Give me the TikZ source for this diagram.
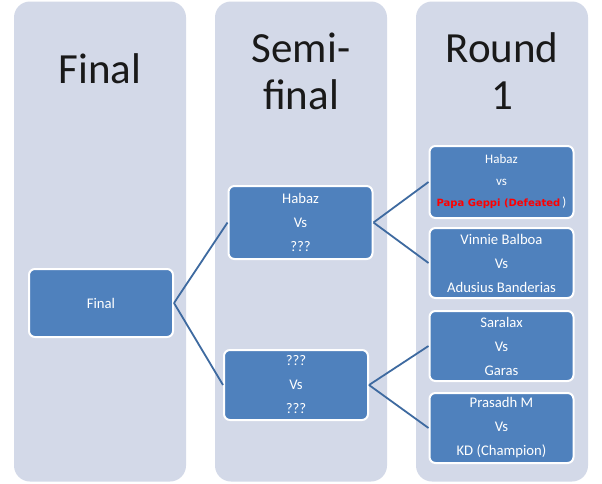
\documentclass[tikz,border=0pt]{standalone}
\usepackage{fontspec}
\setmainfont{Carlito}
\newfontfamily\notefont{DejaVu Sans}
\usepackage{xcolor}
\definecolor{lanebg}{HTML}{D3D9E8}
\definecolor{matchblue}{HTML}{4F81BD}
\definecolor{linkblue}{HTML}{3E6AA0}
\tikzset{
  lane/.style={fill=lanebg, rounded corners=16pt, minimum width=172pt, minimum height=480pt, inner sep=0pt},
  heading/.style={align=center, font=\fontsize{43}{47}\selectfont, text=black!90},
  match/.style={draw=white, line width=2pt, fill=matchblue, rounded corners=6pt, minimum width=144pt, minimum height=71pt, inner sep=0pt, align=center, text=white, font=\fontsize{14.7}{24}\selectfont},
  link/.style={linkblue, line width=1.8pt}
}

\begin{document}
\begin{tikzpicture}[x=1pt,y=-1pt]
  \useasboundingbox[fill=white] (0,0) rectangle (602,483);

  \node[lane] (colfinal) at (100,241.5) {};
  \node[lane] (colsemi) at (301,241.5) {};
  \node[lane] (colround) at (502,241.5) {};

  \node[heading] (hfinal) at (100,69) {Final};
  \node[heading] (hsemi) at (301,71) {Semi-\\final};
  \node[heading] (hround) at (502,71) {Round\\1};

  \node[match, minimum height=68pt] (final) at (101,303) {Final};
  \node[match, minimum height=73pt] (semitop) at (300.5,222.5) {Habaz\\Vs\\???};
  \node[match, minimum height=70pt] (semibot) at (296,385) {???\\Vs\\???};
  \node[match, minimum height=72pt, font=\fontsize{13}{21.5}\selectfont] (rone) at (501.5,182)
    {Habaz\\vs\\{\notefont\bfseries\fontsize{10}{11}\selectfont\color{red}Papa Geppi (Defeated}\,)};
  \node[match, minimum height=70pt] (rtwo) at (501.5,263) {Vinnie Balboa\\Vs\\Adusius Banderias};
  \node[match, minimum height=70pt] (rthree) at (501.5,346) {Saralax\\Vs\\Garas};
  \node[match, minimum height=70pt] (rfour) at (501.5,428) {Prasadh M\\Vs\\KD (Champion)};

  \draw[link] (final.east) -- (semitop.west);
  \draw[link] (final.east) -- (semibot.west);
  \draw[link] (semitop.east) -- (rone.west);
  \draw[link] (semitop.east) -- (rtwo.west);
  \draw[link] (semibot.east) -- (rthree.west);
  \draw[link] (semibot.east) -- (rfour.west);
\end{tikzpicture}
\end{document}
